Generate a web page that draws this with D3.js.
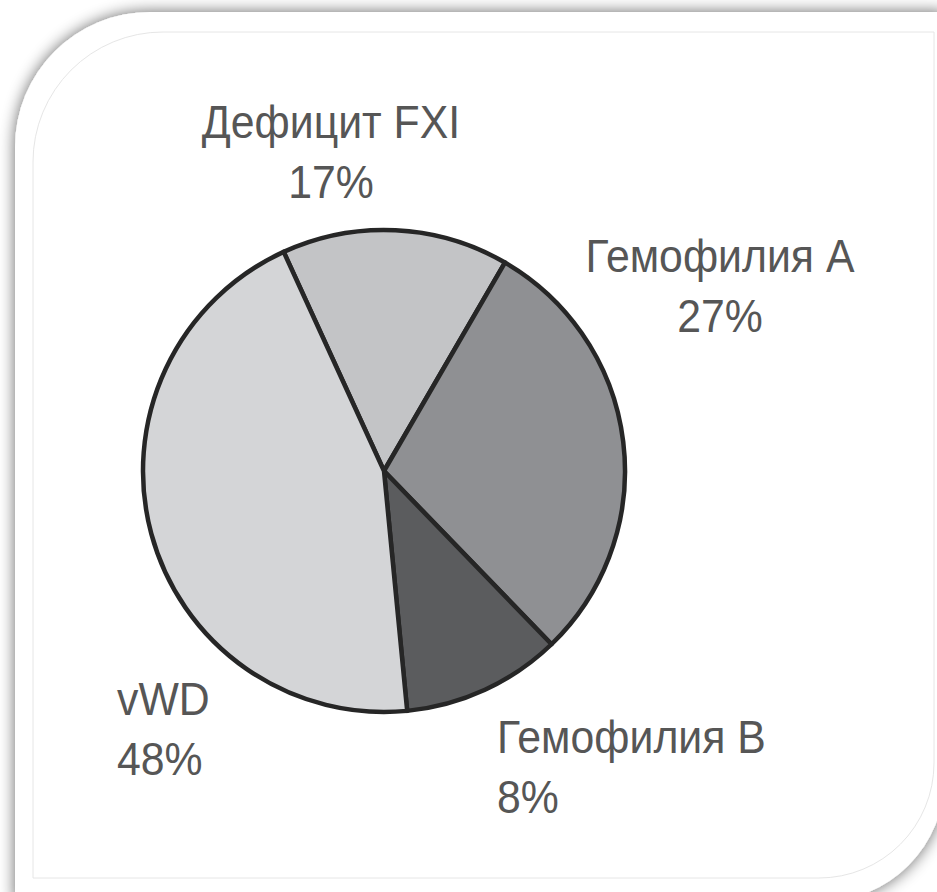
<!DOCTYPE html>
<html>
<head>
<meta charset="utf-8">
<script src="https://cdn.jsdelivr.net/npm/d3@7"></script>
<style>
  body { margin: 0; background: #fff; }
  svg { display: block; }
</style>
</head>
<body>
<div class="pie-chart"></div>
<script>
(function() {
// data
const categories = ['Дефицит FXI', 'Гемофилия А', 'Гемофилия В', 'vWD'];
const shareLabels = ['17%', '27%', '8%', '48%'];
// slice sizes as they are actually drawn (the printed % don't quite match the wedges)
const drawnShares = [15.2, 29.4, 10.7, 44.7];
const sliceColors = ['#c3c4c6', '#8f9093', '#5b5c5e', '#d4d5d7'];

// label placement: [x, first baseline, anchor]
const labelPos = [
    [331, 138, 'middle'],
    [720, 272, 'middle'],
    [497, 753, 'start'],
    [117, 715, 'start']
];

const W = 937, H = 892,
    cx = 384, cy = 471, radius = 241;

const svg = d3.select('.pie-chart').append('svg')
    .attr('width', W)
    .attr('height', H);

const defs = svg.append('defs');
const shadow = defs.append('filter').attr('id', 'cardShadow')
    .attr('x', '-20%').attr('y', '-20%').attr('width', '140%').attr('height', '140%');
shadow.append('feGaussianBlur').attr('in', 'SourceAlpha').attr('stdDeviation', 8);
shadow.append('feComponentTransfer').append('feFuncA').attr('type', 'linear').attr('slope', 0.6);
const merge = shadow.append('feMerge');
merge.append('feMergeNode');
merge.append('feMergeNode').attr('in', 'SourceGraphic');

// card with rounded top-left and bottom-right corners
function cardPath(x0, y0, x1, y1, r1, r2) {
    return 'M' + (x0 + r1) + ',' + y0 +
        'L' + x1 + ',' + y0 +
        'L' + x1 + ',' + (y1 - r2) +
        'A' + r2 + ',' + r2 + ' 0 0 1 ' + (x1 - r2) + ',' + y1 +
        'L' + x0 + ',' + y1 +
        'L' + x0 + ',' + (y0 + r1) +
        'A' + r1 + ',' + r1 + ' 0 0 1 ' + (x0 + r1) + ',' + y0 + 'Z';
}

svg.append('path')
    .attr('d', cardPath(15, 12, 945, 902, 135, 125))
    .attr('fill', '#fff')
    .attr('filter', 'url(#cardShadow)');

svg.append('path')
    .attr('d', cardPath(33, 32, 934, 878, 130, 115))
    .attr('fill', 'none')
    .attr('stroke', '#e6e6e6')
    .attr('stroke-width', 1);

const pie = d3.pie()
    .sort(null)
    .startAngle(-24.6 * Math.PI / 180)
    .endAngle(-24.6 * Math.PI / 180 + 2 * Math.PI)
    .value((d) => d);

const arc = d3.arc().innerRadius(0).outerRadius(radius);

const g = svg.append('g')
    .attr('transform', 'translate(' + cx + ',' + cy + ')');

g.selectAll('.slice')
    .data(pie(drawnShares))
    .enter().append('path')
    .attr('class', 'slice')
    .attr('d', arc)
    .style('fill', (d, i) => sliceColors[i])
    .style('stroke', '#262626')
    .style('stroke-width', 4.5)
    .style('stroke-linejoin', 'round');

const labels = svg.selectAll('.lbl')
    .data(categories)
    .enter().append('text')
    .attr('class', 'lbl')
    .attr('x', (d, i) => labelPos[i][0])
    .attr('y', (d, i) => labelPos[i][1])
    .attr('text-anchor', (d, i) => labelPos[i][2])
    .style('font-family', '"Liberation Sans", Arial, sans-serif')
    .style('font-size', '46px')
    .style('fill', '#565656');

labels.append('tspan')
    .attr('x', (d, i) => labelPos[i][0])
    .text((d) => d);

labels.append('tspan')
    .attr('x', (d, i) => labelPos[i][0])
    .attr('dy', 60)
    .text((d, i) => shareLabels[i]);

// narrow the type a little, like the condensed face in the original
labels.selectAll('tspan').each(function() {
    const len = this.getComputedTextLength();
    d3.select(this)
        .attr('textLength', len * 0.93)
        .attr('lengthAdjust', 'spacingAndGlyphs');
});
}());
</script>
</body>
</html>
